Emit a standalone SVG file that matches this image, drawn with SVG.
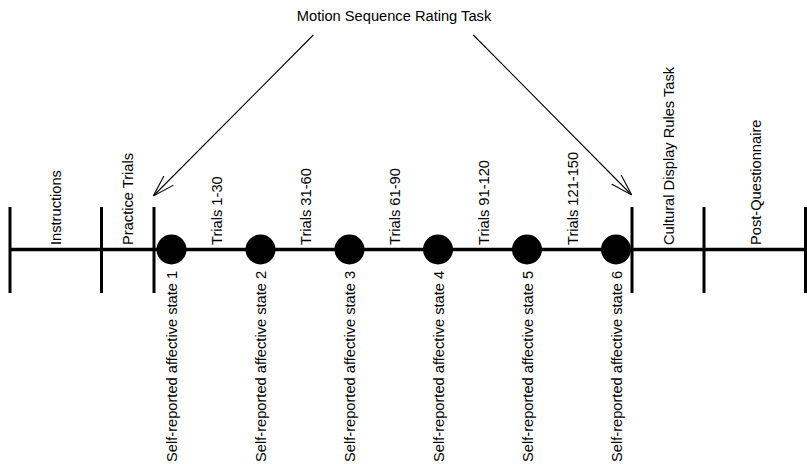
<svg xmlns="http://www.w3.org/2000/svg" width="807" height="464" viewBox="0 0 807 464">
<style>
text{font-family:"Liberation Sans",Arial,Helvetica,sans-serif;font-size:14.67px;fill:#000}
.tick{stroke:#000;stroke-width:3}
.main{stroke:#000;stroke-width:3.5}
.arrow{stroke:#000;stroke-width:1.1;fill:none}
</style>
<defs>
<marker id="vhead" markerUnits="userSpaceOnUse" viewBox="0 0 22 14" refX="22" refY="7" markerWidth="22" markerHeight="14" orient="auto">
<path d="M0,0.3 L22,7 L0,13.7" fill="none" stroke="#000" stroke-width="1.1"/>
</marker>
</defs>
<rect width="807" height="464" fill="#fff"/>
<g id="timeline">
<line class="main" x1="10" y1="249.5" x2="807" y2="249.5"/>
<line class="tick" x1="10" y1="207" x2="10" y2="293"/>
<line class="tick" x1="101.5" y1="207" x2="101.5" y2="293"/>
<line class="tick" x1="154" y1="207" x2="154" y2="293"/>
<line class="tick" x1="632" y1="207" x2="632" y2="293"/>
<line class="tick" x1="704" y1="207" x2="704" y2="293"/>
<line class="tick" x1="805.5" y1="207" x2="805.5" y2="293"/>
</g>
<g id="title"><text x="394" y="21" text-anchor="middle">Motion Sequence Rating Task</text></g>
<g id="connectors">
<line class="arrow" x1="313.3" y1="35" x2="153.3" y2="196" marker-end="url(#vhead)"/>
<line class="arrow" x1="473.3" y1="35" x2="631.7" y2="195" marker-end="url(#vhead)"/>
</g>
<g id="phase-instructions"><text transform="translate(61,245) rotate(-90)">Instructions</text></g>
<g id="phase-practice"><text transform="translate(133,245) rotate(-90)">Practice Trials</text></g>
<g id="phase-cultural"><text transform="translate(673.5,245) rotate(-90)">Cultural Display Rules Task</text></g>
<g id="phase-post"><text transform="translate(761,245) rotate(-90)">Post-Questionnaire</text></g>
<g id="trials-1"><text transform="translate(222,245) rotate(-90)">Trials 1-30</text></g>
<g id="trials-2"><text transform="translate(311,245) rotate(-90)">Trials 31-60</text></g>
<g id="trials-3"><text transform="translate(400,245) rotate(-90)">Trials 61-90</text></g>
<g id="trials-4"><text transform="translate(489,245) rotate(-90)">Trials 91-120</text></g>
<g id="trials-5"><text transform="translate(578,245) rotate(-90)">Trials 121-150</text></g>
<g id="state-1"><circle cx="171.5" cy="249.5" r="15"/><text transform="translate(177,462) rotate(-90)">Self-reported affective state 1</text></g>
<g id="state-2"><circle cx="260.5" cy="249.5" r="15"/><text transform="translate(266,462) rotate(-90)">Self-reported affective state 2</text></g>
<g id="state-3"><circle cx="349.5" cy="249.5" r="15"/><text transform="translate(355,462) rotate(-90)">Self-reported affective state 3</text></g>
<g id="state-4"><circle cx="438" cy="249.5" r="15"/><text transform="translate(443.5,462) rotate(-90)">Self-reported affective state 4</text></g>
<g id="state-5"><circle cx="527" cy="249.5" r="15"/><text transform="translate(532.5,462) rotate(-90)">Self-reported affective state 5</text></g>
<g id="state-6"><circle cx="616" cy="249.5" r="15"/><text transform="translate(621.5,462) rotate(-90)">Self-reported affective state 6</text></g>
</svg>
